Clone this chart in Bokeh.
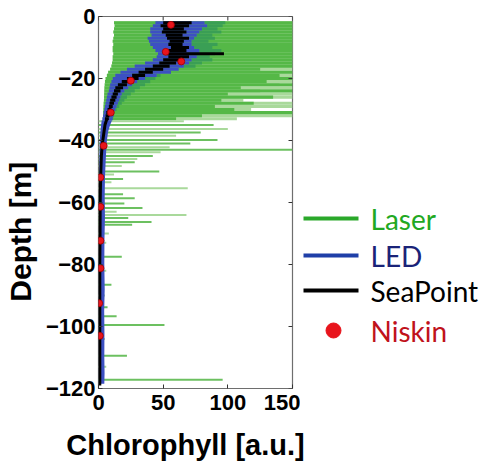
from bokeh.embed import file_html
from bokeh.layouts import column, row
from bokeh.models import ColumnDataSource, CustomJSTickFormatter, FixedTicker, Range1d
from bokeh.plotting import figure
from bokeh.resources import INLINE

# ---------------------------------------------------------------- data
# 1 m depth bins of the upper water column [m]
upper_depth = [-2, -3, -4, -5, -6, -7, -8, -9, -10, -11, -12, -13, -14, -15, -16, -17,
               -18, -19, -20, -21, -22, -23, -24, -25, -26, -27, -28, -29, -30, -31, -32, -33]

# Laser fluorometer: lower bound and three envelope levels of the casts [a.u.]
laser_left = [12, 12.5, 12, 11.5, 12, 11.5, 11, 11.5, 11, 11, 11.5, 11, 11, 10.5, 10, 9,
              7.5, 6.5, 5.5, 5, 4.8, 4.6, 4.5, 4.4, 4.3, 4.2, 4, 3.9, 3.8, 3.6, 3.5, 3.4]
laser_outer = [150, 150, 150, 150, 150, 150, 150, 150, 150, 150, 150, 150, 150, 150, 150, 150,
               150, 150, 150, 150, 140, 150, 125, 150, 150, 112, 150, 150, 118, 150, 150, 107]
laser_core = [150, 150, 150, 150, 150, 150, 150, 150, 150, 150, 150, 150, 150, 150, 150, 125,
              150, 140, 150, 130, 150, 110, 150, 100, 135, 95, 120, 90, 105, 150, 80, 60]
laser_dense = [98, 96, 92, 95, 88, 90, 85, 92, 88, 95, 90, 86, 88, 80, 75, 62,
               55, 48, 44, 40, 36, 32, 28, 25, 22, 20, 18, 16, 14, 12, 11, 10]

# Laser spikes in the deeper water column
spike_depth = [-35, -37.4, -39.8, -41, -43, -45, -47, -50, -52.4, -57.3, -58.6, -60.3,
               -61.8, -65, -66.3, -67.2, -77.5, -86.5, -93.8, -96.7, -99.5, -109.4, -117.2]
spike_value = [89, 79, 92, 71, 150, 42, 28, 47, 19, 19, 28, 20,
               34, 23, 41, 26, 18, 10, 7, 14, 51, 22, 96]
faint_depth = [-33.8, -36.3, -38.5, -42.2, -43.8, -46, -48.2, -51, -53.5, -55.4, -63,
               -64, -70, -73, -82, -90, -104, -113]
faint_value = [66, 100, 60, 55, 48, 30, 18, 12, 10, 69, 14, 68, 8, 6, 6, 5, 5, 6]

# LED fluorometer range of the casts
led_lo = [44, 42, 40, 40, 41, 38, 39, 40, 42, 44, 46, 45, 42, 36, 28, 22,
          17, 13, 11, 10, 9, 8.5, 8, 7, 6.5, 6, 5.5, 5, 4.5, 4, 3.5, 3]
led_hi = [82, 84, 80, 78, 76, 74, 72, 72, 74, 78, 78, 76, 72, 70, 66, 62,
          56, 45, 36, 30, 26, 23, 20, 18, 17, 16, 15, 14, 13, 12, 11.5, 11]
led_deep_depth = [-33.5, -35, -37, -40, -43, -47, -52, -58, -65, -72, -80, -88,
                  -95, -102, -110, -115, -118.5]
led_deep_lo = [2.5, 2, 1.5, 1, 0.8, 0.6, 0.5, 0.5, 0.4, 0.4, 0.3, 0.3, 0.3, 0.3, 0.3, 0.3, 0.3]
led_deep_hi = [10.5, 9, 7.5, 6.5, 6, 5.5, 5, 4.8, 5, 4.6, 4.5, 4.8, 4.4, 4.6, 4.5, 4.7, 4.5]

# SeaPoint fluorometer range of the casts, then its profile at depth
sea_lo = [50, 48, 50, 49, 52, 53, 55, 54, 56, 52, 53, 54, 50, 47, 42, 36,
          31, 26, 22, 18, 15, 13, 12, 11, 10, 9, 8.5, 8, 7, 6, 5.5, 5]
sea_hi = [72, 70, 66, 68, 65, 70, 66, 65, 70, 68, 97, 70, 64, 60, 55, 50,
          42, 36, 31, 27, 22, 19, 17, 15, 14, 13, 12, 11, 10, 9, 8.5, 8]
sea_deep_depth = [-33, -35, -38, -41, -45, -50, -55, -60, -70, -80, -90, -100, -110, -119]
sea_deep_value = [6.5, 5, 4, 3, 2.2, 1.8, 1.5, 1.3, 1.2, 1, 1, 1, 1, 1]

# Niskin bottle samples
niskin_depth = [-2.7, -11.4, -14.5, -20.7, -31, -41.7, -51.9, -61.4, -72.3, -81.2, -92.5, -103]
niskin_value = [56, 52, 64, 25, 9.5, 4, 1.5, 1.5, 1.5, 1.5, 0.5, 1]

x_ticks = [0, 50, 100, 150]
y_ticks = [0, -20, -40, -60, -80, -100, -120]

legend_names = ["Laser", "LED", "SeaPoint", "Niskin"]

# ---------------------------------------------------------------- colours
GREEN_LIGHT = "#a9d99b"
GREEN = "#55b847"
GREEN_DARK = "#3a9f55"
BLUE = "#3c50c2"
RED = "#e8141c"
NBSP = "\u00a0"
FONT = "Liberation Sans"

upper = ColumnDataSource(dict(depth=upper_depth, left=laser_left, outer=laser_outer,
                              core=laser_core, dense=laser_dense,
                              led_lo=led_lo, led_hi=led_hi, sea_lo=sea_lo, sea_hi=sea_hi))

p = figure(width=300, height=423, x_range=Range1d(0, 150), y_range=Range1d(-120, 0),
           output_backend="svg", toolbar_location=None,
           min_border_left=97, min_border_right=8, min_border_top=16, min_border_bottom=35)
p.grid.visible = False
p.background_fill_color = "white"
p.border_fill_color = "white"
p.outline_line_color = "#6e6e6e"
p.outline_line_width = 1.2

# Laser envelopes; the densest overlap sits just right of the LED band
p.hbar(y="depth", left="left", right="outer", height=1.0, source=upper,
       fill_color=GREEN_LIGHT, line_color=None)
p.hbar(y="depth", left="left", right="core", height=1.0, source=upper,
       fill_color=GREEN, line_color=None)
p.hbar(y="depth", left="led_hi", right="dense", height=1.0, source=upper,
       fill_color=GREEN_DARK, line_color=None)
p.segment(x0=[0] * len(faint_depth), y0=faint_depth, x1=faint_value, y1=faint_depth,
          line_color=GREEN_LIGHT, line_width=2)
p.segment(x0=[0] * len(spike_depth), y0=spike_depth, x1=spike_value, y1=spike_depth,
          line_color="#6cc060", line_width=2)

# LED band
p.hbar(y="depth", left="led_lo", right="led_hi", height=1.0, source=upper,
       fill_color=BLUE, line_color=None)
p.harea(y=led_deep_depth, x1=led_deep_lo, x2=led_deep_hi, fill_color=BLUE)

# SeaPoint
p.hbar(y="depth", left="sea_lo", right="sea_hi", height=1.0, source=upper,
       fill_color="black", line_color=None)
p.line(x=sea_deep_value, y=sea_deep_depth, line_color="black", line_width=3)

# Niskin bottles
p.scatter(x=niskin_value, y=niskin_depth, size=7, fill_color=RED, line_color="#a00000",
          line_width=0.8)

# inward box ticks along the top and right edges (4 px long)
top_len = 4 * 120 / 372
right_len = 4 * 150 / 195
p.segment(x0=x_ticks, y0=[0] * len(x_ticks), x1=x_ticks, y1=[-top_len] * len(x_ticks),
          line_color="#333333", line_width=1)
p.segment(x0=[150] * len(y_ticks), y0=y_ticks, x1=[150 - right_len] * len(y_ticks), y1=y_ticks,
          line_color="#333333", line_width=1)

minus_fmt = CustomJSTickFormatter(code="return tick < 0 ? '\\u2212' + (-tick) : String(tick);")

p.xaxis.ticker = FixedTicker(ticks=x_ticks)
p.yaxis.ticker = FixedTicker(ticks=y_ticks)
p.yaxis.formatter = minus_fmt

for ax in (p.xaxis[0], p.yaxis[0]):
    ax.axis_line_color = None
    ax.major_tick_in = 4
    ax.major_tick_out = 0
    ax.minor_tick_line_color = None
    ax.major_tick_line_color = "#333333"
    ax.major_label_text_font = FONT
    ax.major_label_text_font_style = "bold"
    ax.major_label_text_font_size = "22px"
    ax.major_label_text_color = "black"
    ax.axis_label_text_font = FONT
    ax.axis_label_text_font_style = "bold"
    ax.axis_label_text_color = "black"

p.xaxis.major_label_standoff = 6
p.yaxis.major_label_standoff = 3

p.yaxis.axis_label = "Depth [m]" + NBSP * 7
p.yaxis.axis_label_text_font_size = "30px"
p.yaxis.axis_label_standoff = 6


def blank_panel(width, height):
    """A figure whose frame fills the canvas, with one unit per pixel, y downwards."""
    f = figure(width=width, height=height, x_range=Range1d(0, width),
               y_range=Range1d(height, 0), x_axis_type=None, y_axis_type=None,
               output_backend="svg", toolbar_location=None,
               min_border_left=0, min_border_right=0, min_border_top=0, min_border_bottom=0)
    f.grid.visible = False
    f.outline_line_color = None
    return f


# ---------------------------------------------------------------- legend panel
lg = blank_panel(184, 423)
lg.segment(x0=[3, 3, 3], y0=[218, 255, 290], x1=[58, 58, 58], y1=[218, 255, 290],
           line_color=["#2aa82a", "#1f3fa8", "black"], line_width=4)
lg.scatter(x=[33], y=[330], size=15, fill_color=RED, line_color=RED)
lg.text(x=[70, 70, 70, 70], y=[218, 255, 290, 330], text=legend_names,
        text_color=["#22a822", "#1a2378", "black", "#c0121b"],
        text_font={"value": "Lato"}, text_font_size="28px", text_baseline="middle")

# ---------------------------------------------------------------- x-axis title strip
xt = blank_panel(484, 40)
xt.text(x=[185], y=[21], text=["Chlorophyll [a.u.]"], text_align="center",
        text_baseline="middle", text_font={"value": FONT}, text_font_style="bold",
        text_font_size="29px", text_color="black")

# keep each panel's frame where it is instead of lining frames up across the layout
for f in (p, lg, xt):
    if "frame_align" in f.properties():
        f.frame_align = False

layout = column(row(p, lg), xt)
open("out.html", "w").write(file_html(layout, INLINE))
